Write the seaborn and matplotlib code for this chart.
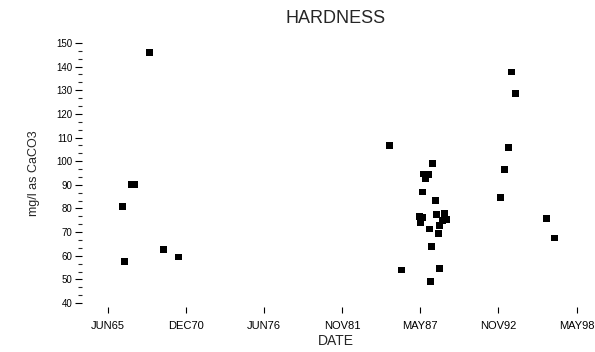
import matplotlib
matplotlib.use("Agg")
import matplotlib.pyplot as plt
import seaborn as sns
import pandas as pd
from matplotlib.ticker import AutoMinorLocator

# sample dates as decimal years, hardness in mg/l as CaCO3
years = [1966.43, 1966.60, 1967.04, 1967.32, 1968.33, 1969.32, 1970.36,
         1985.26, 1988.29, 1987.63, 1987.99, 1987.78, 1987.59, 1988.46,
         1987.35, 1987.56, 1987.45, 1988.55, 1989.11, 1988.97, 1989.25,
         1988.05, 1988.76, 1988.69, 1988.22, 1986.10, 1988.78, 1988.13,
         1993.86, 1994.10, 1993.61, 1993.37, 1993.06, 1996.31, 1996.85]
hardness = [81, 57.5, 90, 90, 146, 62.5, 59.5,
            106.5, 99, 94.6, 94.4, 92.6, 87, 83.5,
            76.7, 76.3, 74.2, 77.6, 78, 75, 75.2,
            71.3, 72.7, 69.3, 64, 54, 54.7, 49.2,
            137.7, 128.6, 105.7, 96.6, 84.6, 75.7, 67.5]

tick_years = [1965.42, 1970.92, 1976.42, 1981.92, 1987.42, 1992.92, 1998.42]
tick_labels = ["JUN65", "DEC70", "JUN76", "NOV81", "MAY87", "NOV92", "MAY98"]

df = pd.DataFrame({"date": years, "hardness": hardness})

sns.set_style("white")
plt.rcParams["font.family"] = ["Liberation Sans", "DejaVu Sans"]

fig = plt.figure(figsize=(5.95, 3.52), dpi=100)
ax = fig.add_axes([0.138, 0.139, 0.853, 0.739])

sns.scatterplot(data=df, x="date", y="hardness", marker="s", s=24,
                color="black", edgecolor="none", ax=ax, legend=False)

ax.set_xlim(1963.6, 1999.34)
ax.set_ylim(40, 150)
ax.set_xticks(tick_years)
ax.set_xticklabels(tick_labels)
ax.set_yticks(range(40, 151, 10))
ax.yaxis.set_minor_locator(AutoMinorLocator(3))

for s in ax.spines.values():
    s.set_visible(False)
ax.spines["bottom"].set_position(("outward", 3))

ax.tick_params(axis="y", which="major", direction="out", length=5, width=0.8,
               left=True, labelsize=7, pad=2, colors="black")
ax.tick_params(axis="y", which="minor", direction="out", length=3, width=0.8,
               left=True)
ax.tick_params(axis="x", which="major", direction="out", length=4, width=0.8,
               bottom=True, labelsize=8, pad=6, colors="black")

ax.set_xlabel("DATE", fontsize=10, labelpad=2)
ax.set_ylabel("mg/l as CaCO3", fontsize=9, labelpad=12)
ax.set_title("HARDNESS", fontsize=13, pad=14)

fig.savefig("out.png", dpi=100)
plt.close(fig)
